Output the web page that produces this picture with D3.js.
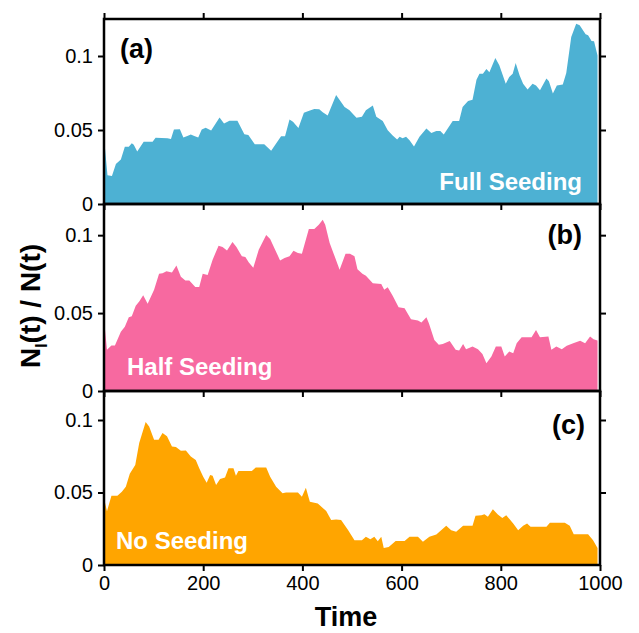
<!DOCTYPE html>
<html>
<head>
<meta charset="utf-8">
<script src="https://cdn.jsdelivr.net/npm/d3@7"></script>
<style>
  body { margin: 0; background: #fff; }
  svg { display: block; }
  text { font-family: "Liberation Sans", Arial, Helvetica, sans-serif; }
</style>
</head>
<body>
<svg id="chart" width="639" height="633"></svg>
<script>
// ---- data ----
const xTicks = [0, 200, 400, 600, 800, 1000];
const yTicks = [0, 0.05, 0.1];

const timeFull = [0,7,16,24,34,42,50,56,60,67,80,98,104,128,135,141,153,160,168,175,182,190,197,205,216,233,242,253,269,283,291,304,323,337,357,365,374,381,392,403,411,424,434,441,451,468,485,495,501,509,520,528,542,549,562,572,582,591,596,602,609,616,625,636,650,660,670,678,685,703,716,723,734,743,751,757,764,771,777,789,797,810,817,824,830,838,845,854,864,871,879,892,897,905,913,925,932,942,952,959,971,976,983,988,995];
const fullSeeding = [0.045,0.0195,0.019,0.027,0.030,0.0386,0.0386,0.041,0.040,0.0355,0.042,0.042,0.0447,0.0445,0.044,0.0503,0.0505,0.045,0.046,0.047,0.046,0.045,0.0504,0.0515,0.0497,0.0584,0.0544,0.0562,0.0562,0.0472,0.0467,0.0404,0.0404,0.036,0.0458,0.0458,0.0571,0.0555,0.0513,0.0616,0.0627,0.0642,0.064,0.062,0.0598,0.0737,0.0656,0.0634,0.0611,0.0582,0.059,0.0634,0.0665,0.059,0.056,0.0499,0.0463,0.0436,0.0454,0.0445,0.0454,0.0431,0.0388,0.0454,0.051,0.048,0.0494,0.0494,0.047,0.056,0.056,0.0656,0.0696,0.0705,0.084,0.088,0.088,0.0912,0.089,0.0986,0.0937,0.0813,0.0858,0.088,0.0952,0.0869,0.0813,0.0773,0.0813,0.08,0.0768,0.0848,0.083,0.0746,0.08,0.0808,0.0885,0.1128,0.1218,0.1207,0.1147,0.114,0.1101,0.11,0.1004];

const timeHalf = [0,6,15,22,34,42,50,56,64,71,79,88,101,111,118,126,137,146,155,164,172,184,192,199,209,219,231,239,248,259,267,278,285,292,301,312,327,335,345,355,364,374,382,391,399,413,424,433,441,446,455,465,475,487,496,505,511,521,528,542,559,565,572,582,594,606,619,633,640,650,655,666,675,683,697,709,716,724,730,743,754,763,771,781,790,801,808,817,825,832,842,852,862,871,879,896,902,912,923,933,946,960,970,980,987,995];
const halfSeeding = [0.046,0.0264,0.0292,0.0292,0.0381,0.0412,0.0474,0.048,0.0547,0.0574,0.0615,0.056,0.0649,0.0752,0.0756,0.0769,0.076,0.0805,0.0733,0.0709,0.0709,0.0667,0.0667,0.0752,0.0745,0.0843,0.0932,0.0924,0.0902,0.0956,0.0924,0.0864,0.086,0.0825,0.0791,0.0907,0.1001,0.0975,0.0907,0.0838,0.0853,0.0864,0.09,0.0885,0.0881,0.1039,0.1039,0.1067,0.1099,0.1067,0.0949,0.0864,0.0778,0.0881,0.0881,0.0864,0.0782,0.0752,0.074,0.0692,0.0686,0.0649,0.0666,0.0611,0.0538,0.0531,0.0461,0.0452,0.044,0.0474,0.0435,0.0328,0.0296,0.0302,0.0321,0.0264,0.026,0.0302,0.0268,0.0285,0.0268,0.0238,0.0178,0.0221,0.0285,0.0285,0.0221,0.0253,0.0242,0.0306,0.0345,0.0345,0.0345,0.0392,0.0345,0.0349,0.0264,0.0285,0.0268,0.0291,0.0306,0.0323,0.0306,0.0349,0.0332,0.0324];

const timeNo = [0,6,15,27,36,44,52,63,71,84,91,101,110,118,127,137,145,155,165,175,185,192,200,207,214,219,226,234,244,251,261,266,271,286,298,306,327,335,347,360,367,391,399,407,415,431,448,458,468,478,492,505,520,528,537,545,552,559,564,574,588,606,616,633,643,656,670,690,700,710,724,743,749,761,767,774,784,794,803,811,825,835,845,853,860,892,899,929,939,947,976,986,995];
const noSeeding = [0.046,0.0371,0.0478,0.0478,0.0506,0.054,0.063,0.0689,0.0841,0.0986,0.0956,0.0864,0.0864,0.0911,0.0888,0.0818,0.0813,0.0788,0.079,0.0748,0.0725,0.0667,0.0609,0.0568,0.062,0.0616,0.0552,0.0593,0.0603,0.0667,0.0667,0.0616,0.0649,0.0649,0.0649,0.0672,0.0672,0.0609,0.054,0.0494,0.05,0.05,0.047,0.0532,0.0437,0.0425,0.0372,0.031,0.0314,0.031,0.0241,0.0171,0.0171,0.0194,0.0178,0.0194,0.0164,0.0194,0.0118,0.0125,0.0166,0.0166,0.0194,0.0194,0.016,0.0194,0.021,0.027,0.024,0.0229,0.027,0.027,0.0339,0.0343,0.035,0.0332,0.0385,0.0348,0.0325,0.0343,0.0286,0.024,0.027,0.0286,0.0263,0.0263,0.0291,0.0291,0.027,0.0212,0.0212,0.0171,0.0118];

const panelLabels = ["(a)", "(b)", "(c)"];
const seedLabels = ["Full Seeding", "Half Seeding", "No Seeding"];

// ---- layout ----
const svg = d3.select("#chart");
const xL = 104, xR = 600;
const x = d3.scaleLinear().domain([0, 1000]).range([xL, xR]);

const panels = [
  { t: timeFull, v: fullSeeding, top: 19, bottom: 204, ymax: 0.125, color: "#4db1d3",
    plab: { x: 120, y: 58, anchor: "start" }, slab: { x: 582, y: 190, anchor: "end" } },
  { t: timeHalf, v: halfSeeding, top: 204, bottom: 391, ymax: 0.12, color: "#f769a0",
    plab: { x: 582, y: 244, anchor: "end" }, slab: { x: 127, y: 375, anchor: "start" } },
  { t: timeNo, v: noSeeding, top: 391, bottom: 565, ymax: 0.12, color: "#ffa500",
    plab: { x: 585, y: 434, anchor: "end" }, slab: { x: 116, y: 549, anchor: "start" } }
];

panels.forEach(p => {
  p.y = d3.scaleLinear().domain([0, p.ymax]).range([p.bottom, p.top]);
  p.data = p.t.map((t, i) => ({ t, v: p.v[i] }));
});

// areas
panels.forEach(p => {
  const area = d3.area().x(d => x(d.t)).y0(p.y(0)).y1(d => p.y(d.v)).curve(d3.curveLinear);
  svg.append("path").datum(p.data).attr("d", area).attr("fill", p.color);
});

// labels inside panels
panels.forEach((p, i) => {
  svg.append("text").attr("x", p.slab.x).attr("y", p.slab.y).attr("text-anchor", p.slab.anchor)
    .attr("font-size", 24).attr("font-weight", "bold").attr("fill", "#fff").text(seedLabels[i]);
  svg.append("text").attr("x", p.plab.x).attr("y", p.plab.y).attr("text-anchor", p.plab.anchor)
    .attr("font-size", 27).attr("font-weight", "bold").attr("fill", "#000").text(panelLabels[i]);
});

function styleAxis(g) {
  g.select(".domain").remove();
  g.selectAll(".tick line").attr("stroke", "#000").attr("stroke-width", 2);
  g.selectAll(".tick text").attr("fill", "#000").attr("font-size", 20)
    .attr("font-family", '"Liberation Sans", Arial, sans-serif');
}

const fmt = d => String(d);

panels.forEach((p, i) => {
  // left axis
  svg.append("g").attr("transform", `translate(${xL},0)`)
    .call(d3.axisLeft(p.y).tickValues(yTicks).tickSize(6).tickPadding(5).tickFormat(fmt))
    .call(styleAxis);
  // right axis
  svg.append("g").attr("transform", `translate(${xR},0)`)
    .call(d3.axisRight(p.y).tickValues(yTicks.filter(d => d > 0)).tickSize(6).tickFormat(""))
    .call(styleAxis);
  // top ticks (outward for first panel only)
  if (i === 0) {
    svg.append("g").attr("transform", `translate(0,${p.top})`)
      .call(d3.axisTop(x).tickValues(xTicks).tickSize(6).tickFormat(""))
      .call(styleAxis);
  }
  // bottom ticks
  const bottomAxis = d3.axisBottom(x).tickValues(xTicks).tickSize(6).tickPadding(5)
    .tickFormat(i === 2 ? fmt : "");
  svg.append("g").attr("transform", `translate(0,${p.bottom})`)
    .call(bottomAxis).call(styleAxis);
  // frame
  svg.append("rect").attr("x", xL).attr("y", p.top).attr("width", xR - xL)
    .attr("height", p.bottom - p.top).attr("fill", "none")
    .attr("stroke", "#000").attr("stroke-width", 2.5);
});

// axis titles
svg.append("text").attr("x", 346).attr("y", 626).attr("text-anchor", "middle")
  .attr("font-size", 27).attr("font-weight", "bold").text("Time");

const yl = svg.append("text").attr("transform", "translate(40,306) rotate(-90)")
  .attr("text-anchor", "middle").attr("font-size", 28).attr("font-weight", "bold");
yl.append("tspan").text("N");
yl.append("tspan").attr("font-size", 16).attr("dy", 7).text("I");
yl.append("tspan").attr("dy", -7).text("(t) / N(t)");
</script>
</body>
</html>
